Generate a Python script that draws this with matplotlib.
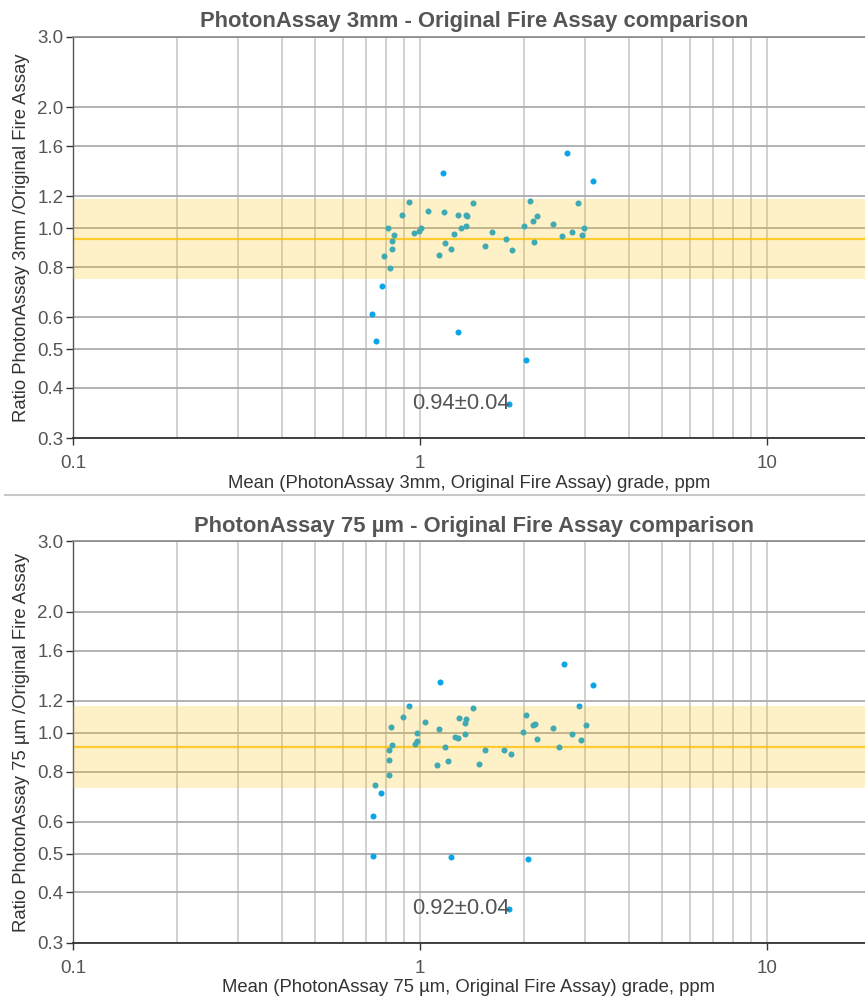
import numpy as np
import matplotlib
matplotlib.use('Agg')
import matplotlib.pyplot as plt
from matplotlib.ticker import FixedLocator, NullLocator, NullFormatter

plt.rcParams['font.family'] = ['Liberation Sans', 'DejaVu Sans']

# --- PhotonAssay 3mm vs Original Fire Assay
x_3mm = [0.810, 0.886, 0.928, 0.830, 0.842, 0.829, 0.789, 0.820, 0.965, 0.995,
         1.005, 1.052, 1.173, 1.287, 1.354, 1.366, 1.313, 1.360, 1.419, 1.255,
         1.180, 1.228, 1.134, 1.536, 1.609, 1.773, 1.838, 1.994, 2.075, 2.121,
         2.169, 2.127, 2.417, 2.571, 2.742, 2.866, 2.930, 2.964,
         1.163, 2.658, 3.151, 0.779, 0.727, 0.747, 1.284, 2.025, 1.805]
r_3mm = [1.000, 1.079, 1.163, 0.930, 0.964, 0.886, 0.852, 0.798, 0.972, 0.983,
         1.000, 1.106, 1.098, 1.077, 1.077, 1.071, 1.003, 1.015, 1.156, 0.966,
         0.921, 0.890, 0.857, 0.902, 0.981, 0.939, 0.883, 1.013, 1.168, 1.045,
         1.075, 0.924, 1.025, 0.957, 0.981, 1.158, 0.964, 1.003,
         1.375, 1.543, 1.310, 0.719, 0.612, 0.523, 0.551, 0.469, 0.365]
mean_3mm = 0.94
band_3mm = [0.746, 1.183]
label_3mm = '0.94±0.04'

# --- PhotonAssay 75 um vs Original Fire Assay
x_75 = [0.743, 0.814, 0.814, 0.816, 0.830, 0.823, 0.893, 0.930, 0.969, 0.982,
        0.978, 1.032, 1.132, 1.117, 1.183, 1.204, 1.259, 1.287, 1.296, 1.345,
        1.351, 1.357, 1.419, 1.482, 1.546, 1.746, 1.833, 1.985, 2.021, 2.121,
        2.145, 2.174, 2.417, 2.520, 2.754, 2.878, 2.916, 3.022,
        1.144, 2.600, 3.157, 0.772, 0.731, 0.732, 1.231, 2.044, 1.805]
r_75 = [0.741, 0.784, 0.853, 0.907, 0.932, 1.035, 1.092, 1.168, 0.937, 0.952,
        0.998, 1.061, 1.023, 0.832, 0.923, 0.852, 0.974, 0.968, 1.088, 0.993,
        1.055, 1.080, 1.154, 0.837, 0.906, 0.907, 0.884, 1.006, 1.109, 1.043,
        1.051, 0.966, 1.026, 0.920, 0.993, 1.166, 0.959, 1.045,
        1.340, 1.486, 1.313, 0.709, 0.619, 0.492, 0.490, 0.484, 0.363]
mean_75 = 0.923
band_75 = [0.729, 1.166]
label_75 = '0.92±0.04'

yticks = [0.3, 0.4, 0.5, 0.6, 0.8, 1.0, 1.2, 1.6, 2.0, 3.0]
xmajor = [0.1, 1, 10]
xminor = [0.2, 0.3, 0.4, 0.5, 0.6, 0.7, 0.8, 0.9, 2, 3, 4, 5, 6, 7, 8, 9]

W, H = 865, 1001
fig = plt.figure(figsize=(W / 100, H / 100), dpi=100)

def panel(bottom_px, x, r, mean, band, label, title, xlabel, ylabel):
    # axes box in pixels: left 73, top at y=3.0, bottom at y=0.3
    ax = fig.add_axes([73 / W, 1 - bottom_px / H, (W - 73) / W, 401.3 / H])
    ax.set_xscale('log')
    ax.set_yscale('log')
    ax.set_xlim(0.1, 19.2)
    ax.set_ylim(0.3, 3.0)

    ax.xaxis.set_major_locator(FixedLocator(xmajor))
    ax.xaxis.set_minor_locator(FixedLocator(xminor))
    ax.set_xticklabels(['0.1', '1', '10'])
    ax.xaxis.set_minor_formatter(NullFormatter())
    ax.yaxis.set_major_locator(FixedLocator(yticks))
    ax.yaxis.set_minor_locator(NullLocator())
    ax.set_yticklabels(['%.1f' % v for v in yticks])

    ax.tick_params(axis='x', which='major', length=5, width=1, color='#333333',
                   labelsize=13.5, labelcolor='#555555', pad=7.5)
    ax.tick_params(axis='x', which='minor', length=0)
    ax.tick_params(axis='y', length=5, width=1, color='#333333',
                   labelsize=13.5, labelcolor='#555555', pad=2)

    ax.grid(True, axis='x', which='both', color='#c8c8c8', linewidth=1.2)
    ax.grid(True, axis='y', which='major', color='#acacac', linewidth=1.3)
    ax.set_axisbelow(True)

    ax.spines['right'].set_visible(False)
    ax.spines['bottom'].set_color('#333333')
    ax.spines['bottom'].set_linewidth(1.3)
    ax.spines['top'].set_color('#888888')
    ax.spines['top'].set_linewidth(1.2)
    ax.spines['left'].set_color('#555555')
    ax.spines['left'].set_linewidth(1.0)

    ax.scatter(x, r, s=19, color='#0aa5e6', linewidths=0, zorder=3)
    ax.axhline(mean, color='#ffc000', linewidth=1.6, alpha=0.75, zorder=2)
    ax.axhspan(band[0], band[1], color='#ffc000', alpha=0.22, linewidth=0, zorder=4)

    ax.text(1.313, 0.365, label, ha='center', va='center', fontsize=15.8,
            color='#555555', zorder=5)

    ax.set_title(title, fontsize=15.8, fontweight='bold', color='#555555',
                 pad=7, x=(474 - 73) / (W - 73))
    ax.set_xlabel(xlabel, fontsize=13.3, color='#333333', labelpad=1.5)
    ax.set_ylabel(ylabel, fontsize=13.3, color='#333333', labelpad=5)
    return ax

panel(438.1, x_3mm, r_3mm, mean_3mm, band_3mm, label_3mm,
      'PhotonAssay 3mm - Original Fire Assay comparison',
      'Mean (PhotonAssay 3mm, Original Fire Assay) grade, ppm',
      'Ratio PhotonAssay 3mm /Original Fire Assay')
panel(942.6, x_75, r_75, mean_75, band_75, label_75,
      'PhotonAssay 75 µm - Original Fire Assay comparison',
      'Mean (PhotonAssay 75 µm, Original Fire Assay) grade, ppm',
      'Ratio PhotonAssay 75 µm /Original Fire Assay')

# separator between the two charts
fig.add_artist(plt.Line2D([5 / W, 1], [1 - 495 / H, 1 - 495 / H],
                          color='#c8c8c8', linewidth=1.5))

fig.savefig('out.png', dpi=100)
